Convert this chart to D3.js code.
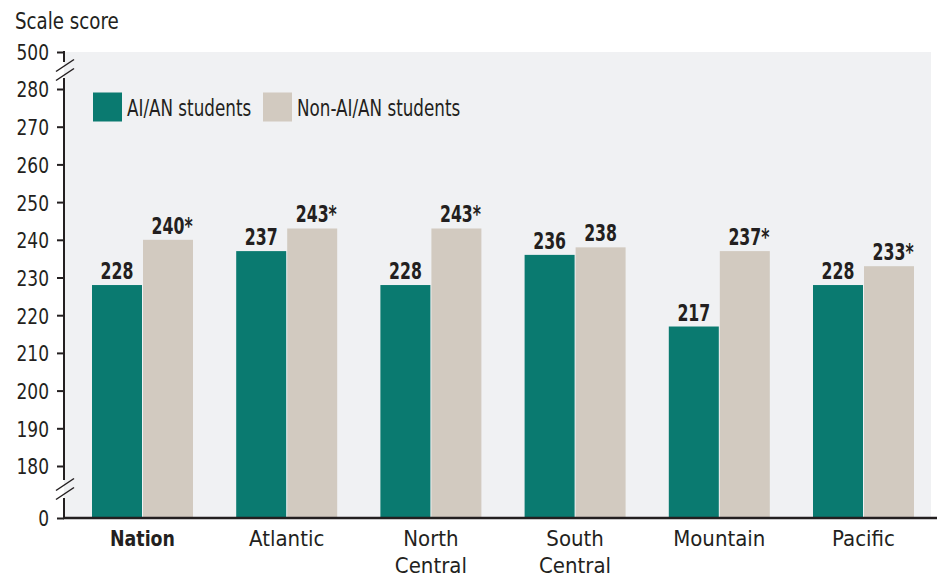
<!DOCTYPE html>
<html lang="en">
<head>
    <meta charset="UTF-8">
    <title>scale score</title>
    <script src="https://cdn.jsdelivr.net/npm/d3@7"></script>
    <style>
        body { margin: 0; background: #fff; }
        text { font-family: "DejaVu Sans Condensed", "DejaVu Sans", sans-serif; font-stretch: condensed; fill: #231f20; }
    </style>
</head>
<body>
    <svg width="937" height="577" id="mainsvg"></svg>
    <script>
        const regions = ["Nation", "Atlantic", "North Central", "South Central", "Mountain", "Pacific"];
        const aian = [228, 237, 228, 236, 217, 228];
        const nonAian = [240, 243, 243, 238, 237, 233];
        const significant = [true, true, true, false, true, true];
        const yTicks = [0, 180, 190, 200, 210, 220, 230, 240, 250, 260, 270, 280, 500];
        const seriesNames = ["AI/AN students", "Non-AI/AN students"];

        const svg = d3.select('#mainsvg');
        const width = +svg.attr('width');
        const colors = ['#0a7a70', '#d2cac0'];

        // squeeze text horizontally to look like a narrow gothic face
        function condense(sel, k) {
            sel.each(function () {
                const w = this.getComputedTextLength();
                d3.select(this).attr('textLength', w * k).attr('lengthAdjust', 'spacingAndGlyphs');
            });
            return sel;
        }

        // broken axis: 0 | 180..280 | 500
        const yScale = d3.scaleLinear()
            .domain([0, 180, 280, 500])
            .range([518, 466, 89, 52]);
        const xScale = d3.scaleBand()
            .domain(regions)
            .range([70.4, 935.6])
            .padding(0);
        const barW = 50;

        // plot background
        svg.append('rect')
            .attr('x', 64).attr('y', yScale(500))
            .attr('width', 931 - 64).attr('height', yScale(0) - yScale(500))
            .attr('fill', '#f0f1f3');

        const data = regions.map((r, i) => ({ region: r, vals: [aian[i], nonAian[i]], sig: significant[i] }));

        const groups = svg.selectAll('.grp').data(data).join('g')
            .attr('class', 'grp')
            .attr('transform', d => `translate(${xScale(d.region) + xScale.bandwidth() / 2}, 0)`);

        groups.selectAll('rect').data(d => d.vals).join('rect')
            .attr('x', (d, i) => i === 0 ? -barW - 0.5 : 0.5)
            .attr('y', d => yScale(d))
            .attr('width', barW)
            .attr('height', d => yScale(0) - yScale(d))
            .attr('fill', (d, i) => colors[i]);

        // value labels, number centred on bar, asterisk hanging right
        const kBold = 0.76;
        groups.each(function (d) {
            const g = d3.select(this);
            d.vals.forEach((v, i) => {
                const cx = i === 0 ? -barW / 2 - 0.5 : barW / 2 + 0.5;
                const t = g.append('text')
                    .attr('y', yScale(v) - 6)
                    .attr('font-size', 23).attr('font-weight', 'bold')
                    .text(v);
                const wNum = t.node().getComputedTextLength();
                if (i === 1 && d.sig) t.text(v + '*');
                t.attr('x', cx - wNum * kBold / 2);
                condense(t, kBold);
            });
        });

        // y axis
        const yAxis = d3.axisLeft(yScale).tickValues(yTicks).tickSize(7).tickPadding(8);
        const ya = svg.append('g').attr('transform', 'translate(64,0)').call(yAxis);
        ya.select('.domain').remove();
        ya.selectAll('.tick line').attr('stroke', '#231f20').attr('stroke-width', 2);
        const tickText = ya.selectAll('.tick text')
            .attr('font-size', 22).attr('font-family', null).attr('fill', '#231f20').attr('dy', '0.36em');
        condense(tickText, 0.86);

        // axis line with breaks
        const breaks = [[yScale(500) - 1, 62], [78, 480], [498, yScale(0)]];
        breaks.forEach(b => {
            svg.append('line').attr('x1', 64).attr('x2', 64).attr('y1', b[0]).attr('y2', b[1])
                .attr('stroke', '#231f20').attr('stroke-width', 2);
        });
        [70, 489].forEach(y => {
            [-4.5, 4.5].forEach(o => {
                svg.append('line')
                    .attr('x1', 56).attr('y1', y + o + 6)
                    .attr('x2', 74).attr('y2', y + o - 6)
                    .attr('stroke', '#231f20').attr('stroke-width', 1.5);
            });
        });

        // x axis
        svg.append('line').attr('x1', 63).attr('x2', width).attr('y1', yScale(0)).attr('y2', yScale(0))
            .attr('stroke', '#231f20').attr('stroke-width', 2.5);
        regions.forEach(r => {
            const cx = xScale(r) + xScale.bandwidth() / 2;
            r.split(' ').forEach((w, i) => {
                const t = svg.append('text')
                    .attr('x', cx).attr('y', 546 + i * 27)
                    .attr('text-anchor', 'middle')
                    .attr('font-size', 22)
                    .attr('font-weight', r === 'Nation' ? 'bold' : 'normal')
                    .text(w);
                condense(t, r === 'Nation' ? 0.88 : 1);
            });
        });

        // title
        condense(svg.append('text').attr('x', 15).attr('y', 29).attr('font-size', 23).text('Scale score'), 0.88);

        // legend
        const legendX = [93, 263];
        seriesNames.forEach((s, i) => {
            svg.append('rect').attr('x', legendX[i]).attr('y', 92.5).attr('width', 29).attr('height', 29).attr('fill', colors[i]);
            condense(svg.append('text').attr('x', legendX[i] + 34).attr('y', 116).attr('font-size', 23).text(s), 0.81);
        });
    </script>
</body>
</html>
